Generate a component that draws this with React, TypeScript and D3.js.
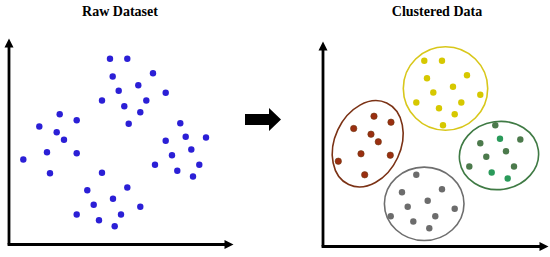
import React from "react";
import * as d3 from "d3";

// Raw dataset points (x, y) in plot units
const rawX = [101, 118.3, 103.7, 144, 129.3, 109.7, 156.7, 93, 137.3, 115.3, 131.3, 119.7,
  50.7, 67.7, 30.3, 47.7, 55, 38, 67.7, 14.3, 41,
  171.3, 176.7, 197, 156.7, 182.3, 163, 146, 190.3, 168.3, 184,
  93, 118.3, 78.3, 104, 84.7, 131.3, 67.7, 112, 90, 105.7];
const rawY = [185.7, 185.7, 168, 171.3, 159.3, 153.7, 151.7, 144, 144, 138.3, 132.3, 120.7,
  130.3, 124.3, 118, 112.3, 104.7, 92.3, 91.3, 85, 71.3,
  121.3, 107.7, 107, 103.7, 95, 89.3, 79.7, 79.7, 73.7, 68,
  71.7, 57, 54.3, 45.7, 39.7, 37.7, 30, 30, 24.3, 18.3];

// Clusters
const yellowX = [101.3, 119, 104, 144, 130, 110.3, 157.3, 93.3, 116, 138.3, 131.7, 120];
const yellowY = [185.7, 185.7, 168.3, 171.3, 159.7, 154, 151.7, 144, 138.3, 144, 132.3, 121.3];
const brownX = [51, 68, 30.7, 48, 55.3, 38, 67.3, 15.3, 41.7];
const brownY = [130.3, 124.3, 118, 112.3, 104.7, 92.7, 91.3, 85.3, 71.7];
const greenX = [172.3, 157.3, 177, 197.3, 183, 163.3, 146.3, 191, 168.7, 184.7];
const greenY = [121.3, 103.3, 107.7, 107, 95.3, 89.7, 80, 80, 74, 68];
const greenTone = [0, 0, 1, 0, 0, 0, 0, 0, 1, 1];
const grayX = [93.3, 119, 79, 104.7, 84.7, 131.7, 67.7, 112.3, 90.3, 106.3];
const grayY = [71.7, 57.3, 54.3, 45.7, 39.7, 37.7, 30.3, 30.3, 25, 18.3];

// Cluster ellipses: center x, center y, radius x, radius y, rotation (deg)
const clusterNames = ["yellow", "brown", "green", "gray"];
const ellCx = [122.5, 44.7, 176, 101.2];
const ellCy = [158, 102.7, 91, 42.7];
const ellRx = [42.2, 33, 39.7, 39.8];
const ellRy = [41.7, 45, 34, 36.7];
const ellRot = [0, 25, -8, 0];

const titles = ["Raw Dataset", "Clustered Data"];

const W = 550, H = 257;

function AxesArrows({ x0, y0, x1, y1 }: { x0: number; y0: number; x1: number; y1: number }) {
  const ah = 9, aw = 4.5;
  return (
    <g>
      <line x1={x0} y1={y0} x2={x0} y2={y1 + ah - 1} stroke="#000" strokeWidth={2.8} />
      <line x1={x0 - 1.4} y1={y0} x2={x1 - ah + 1} y2={y0} stroke="#000" strokeWidth={2.8} />
      <path d={`M${x0},${y1} L${x0 - aw},${y1 + ah} L${x0 + aw},${y1 + ah} Z`} fill="#000" />
      <path d={`M${x1},${y0} L${x1 - ah},${y0 - aw} L${x1 - ah},${y0 + aw} Z`} fill="#000" />
    </g>
  );
}

export default function App() {
  // Left panel scales
  const lx = d3.scaleLinear().domain([0, 224]).range([9, 233]);
  const ly = d3.scaleLinear().domain([0, 206]).range([244.5, 38.5]);
  // Right panel scales
  const rx = d3.scaleLinear().domain([0, 225]).range([323, 548]);
  const ry = d3.scaleLinear().domain([0, 205]).range([246.5, 41.5]);

  const r = 3.2;
  const clusterFill: Record<string, string> = {
    yellow: "#d6c800",
    brown: "#9a2e10",
  };
  const ellStroke = ["#d8c71a", "#7b3215", "#3f7a44", "#6e6e6e"];

  const toPts = (xs: number[], ys: number[]) => xs.map((x, i) => [x, ys[i]] as [number, number]);

  const arrow = { x0: 245, x1: 281, yc: 119.5, bodyH: 11, headH: 23, headL: 12 };

  return (
    <svg width={W} height={H} style={{ position: "absolute", left: 0, top: 0, background: "#fff" }}>
      <rect width={W} height={H} fill="#fff" />
      <text x={120} y={16} textAnchor="middle" fontFamily="'Liberation Serif', 'Times New Roman', serif" fontWeight="bold" fontSize={14}>{titles[0]}</text>
      <text x={437} y={16} textAnchor="middle" fontFamily="'Liberation Serif', 'Times New Roman', serif" fontWeight="bold" fontSize={14}>{titles[1]}</text>

      <AxesArrows x0={lx(0)} y0={ly(0)} x1={233.5} y1={38.5} />
      {toPts(rawX, rawY).map(([x, y], i) => (
        <circle key={"raw" + i} cx={lx(x)} cy={ly(y)} r={r} fill="#2b1fd6" />
      ))}

      <path
        d={`M${arrow.x0},${arrow.yc - arrow.bodyH / 2} L${arrow.x1 - arrow.headL},${arrow.yc - arrow.bodyH / 2} L${arrow.x1 - arrow.headL},${arrow.yc - arrow.headH / 2} L${arrow.x1},${arrow.yc} L${arrow.x1 - arrow.headL},${arrow.yc + arrow.headH / 2} L${arrow.x1 - arrow.headL},${arrow.yc + arrow.bodyH / 2} L${arrow.x0},${arrow.yc + arrow.bodyH / 2} Z`}
        fill="#000"
      />

      <AxesArrows x0={rx(0)} y0={ry(0)} x1={548.5} y1={41.5} />

      {clusterNames.map((n, i) => {
        const cx = rx(ellCx[i]);
        const cy = ry(ellCy[i]);
        const erx = rx(ellRx[i]) - rx(0);
        const ery = ry(0) - ry(ellRy[i]);
        return (
          <ellipse key={n} cx={cx} cy={cy} rx={erx} ry={ery} fill="none" stroke={ellStroke[i]} strokeWidth={1.6}
            transform={`rotate(${ellRot[i]} ${cx} ${cy})`} />
        );
      })}

      {toPts(yellowX, yellowY).map(([x, y], i) => (
        <circle key={"y" + i} cx={rx(x)} cy={ry(y)} r={r} fill={clusterFill.yellow} />
      ))}
      {toPts(brownX, brownY).map(([x, y], i) => (
        <circle key={"b" + i} cx={rx(x)} cy={ry(y)} r={r} fill={clusterFill.brown} stroke="#6e3a12" strokeWidth={0.6} />
      ))}
      {toPts(greenX, greenY).map(([x, y], i) => (
        <circle key={"g" + i} cx={rx(x)} cy={ry(y)} r={r} fill={greenTone[i] ? "#2a9a5a" : "#4c7a4c"} />
      ))}
      {toPts(grayX, grayY).map(([x, y], i) => (
        <circle key={"gr" + i} cx={rx(x)} cy={ry(y)} r={r} fill="#6c6c6c" />
      ))}
    </svg>
  );
}
